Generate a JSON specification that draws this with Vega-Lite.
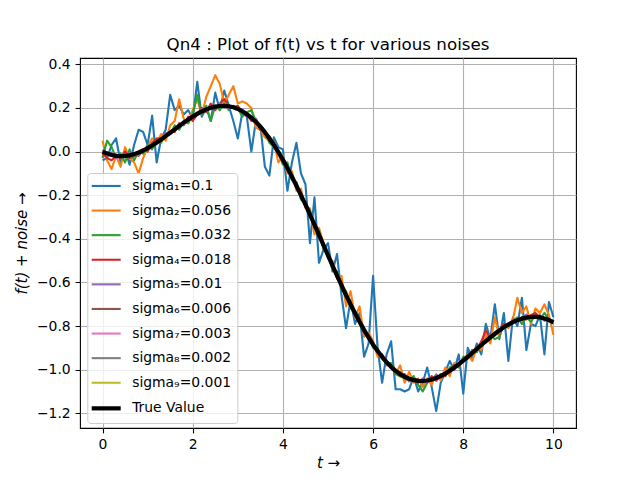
{
  "$schema": "https://vega.github.io/schema/vega-lite/v6.json",
  "width": 496,
  "height": 370,
  "autosize": "none",
  "padding": {"left": 80, "top": 58, "right": 64, "bottom": 52},
  "background": "white",
  "title": {
    "text": "Qn4 : Plot of f(t) vs t for various noises",
    "font": "DejaVu Sans",
    "fontSize": 16.7,
    "fontWeight": "normal",
    "color": "#000000",
    "baseline": "alphabetic",
    "offset": 8.3,
    "dy": 18
  },
  "data": {
    "values": [
      {"s":"1","t":0,"y":-0.04},{"s":"1","t":0.1,"y":-0.03},{"s":"1","t":0.2,"y":0.03},{"s":"1","t":0.3,"y":0.06},{"s":"1","t":0.4,"y":-0.05},{"s":"1","t":0.5,"y":0.01},{"s":"1","t":0.6,"y":-0.06},{"s":"1","t":0.7,"y":0.03},{"s":"1","t":0.8,"y":0.10},{"s":"1","t":0.9,"y":0.09},
      {"s":"1","t":1,"y":0.03},{"s":"1","t":1.1,"y":0.165},{"s":"1","t":1.2,"y":-0.05},{"s":"1","t":1.3,"y":0.06},{"s":"1","t":1.4,"y":0.10},{"s":"1","t":1.5,"y":0.26},{"s":"1","t":1.6,"y":0.19},{"s":"1","t":1.7,"y":0.21},{"s":"1","t":1.8,"y":0.17},{"s":"1","t":1.9,"y":0.19},
      {"s":"1","t":2,"y":0.15},{"s":"1","t":2.1,"y":0.32},{"s":"1","t":2.2,"y":0.16},{"s":"1","t":2.3,"y":0.20},{"s":"1","t":2.4,"y":0.14},{"s":"1","t":2.5,"y":0.27},{"s":"1","t":2.6,"y":0.19},{"s":"1","t":2.7,"y":0.28},{"s":"1","t":2.8,"y":0.21},{"s":"1","t":2.9,"y":0.14},
      {"s":"1","t":3,"y":0.06},{"s":"1","t":3.1,"y":0.18},{"s":"1","t":3.2,"y":0.16},{"s":"1","t":3.3,"y":0.00},{"s":"1","t":3.4,"y":0.14},{"s":"1","t":3.5,"y":0.12},{"s":"1","t":3.6,"y":-0.07},{"s":"1","t":3.7,"y":-0.11},{"s":"1","t":3.8,"y":0.065},{"s":"1","t":3.9,"y":0.02},
      {"s":"1","t":4,"y":0.01},{"s":"1","t":4.1,"y":-0.18},{"s":"1","t":4.2,"y":-0.05},{"s":"1","t":4.3,"y":0.04},{"s":"1","t":4.4,"y":-0.10},{"s":"1","t":4.5,"y":-0.15},{"s":"1","t":4.6,"y":-0.42},{"s":"1","t":4.7,"y":-0.21},{"s":"1","t":4.8,"y":-0.51},{"s":"1","t":4.9,"y":-0.45},
      {"s":"1","t":5,"y":-0.42},{"s":"1","t":5.1,"y":-0.55},{"s":"1","t":5.2,"y":-0.47},{"s":"1","t":5.3,"y":-0.66},{"s":"1","t":5.4,"y":-0.81},{"s":"1","t":5.5,"y":-0.68},{"s":"1","t":5.6,"y":-0.79},{"s":"1","t":5.7,"y":-0.74},{"s":"1","t":5.8,"y":-0.94},{"s":"1","t":5.9,"y":-0.88},
      {"s":"1","t":6,"y":-0.57},{"s":"1","t":6.1,"y":-0.90},{"s":"1","t":6.2,"y":-1.06},{"s":"1","t":6.3,"y":-0.93},{"s":"1","t":6.4,"y":-0.87},{"s":"1","t":6.5,"y":-1.09},{"s":"1","t":6.6,"y":-1.09},{"s":"1","t":6.7,"y":-1.10},{"s":"1","t":6.8,"y":-1.09},{"s":"1","t":6.9,"y":-1.03},
      {"s":"1","t":7,"y":-1.10},{"s":"1","t":7.1,"y":-1.06},{"s":"1","t":7.2,"y":-0.99},{"s":"1","t":7.3,"y":-1.08},{"s":"1","t":7.4,"y":-1.19},{"s":"1","t":7.5,"y":-1.06},{"s":"1","t":7.6,"y":-1.01},{"s":"1","t":7.7,"y":-0.96},{"s":"1","t":7.8,"y":-1.00},{"s":"1","t":7.9,"y":-0.93},
      {"s":"1","t":8,"y":-1.11},{"s":"1","t":8.1,"y":-0.90},{"s":"1","t":8.2,"y":-0.95},{"s":"1","t":8.3,"y":-0.88},{"s":"1","t":8.4,"y":-0.93},{"s":"1","t":8.5,"y":-0.79},{"s":"1","t":8.6,"y":-0.86},{"s":"1","t":8.7,"y":-0.70},{"s":"1","t":8.8,"y":-0.86},{"s":"1","t":8.9,"y":-0.74},
      {"s":"1","t":9,"y":-0.96},{"s":"1","t":9.1,"y":-0.76},{"s":"1","t":9.2,"y":-0.80},{"s":"1","t":9.3,"y":-0.67},{"s":"1","t":9.4,"y":-0.91},{"s":"1","t":9.5,"y":-0.79},{"s":"1","t":9.6,"y":-0.80},{"s":"1","t":9.7,"y":-0.75},{"s":"1","t":9.8,"y":-0.93},{"s":"1","t":9.9,"y":-0.69},
      {"s":"1","t":10,"y":-0.76},

      {"s":"2","t":0,"y":0.05},{"s":"2","t":0.1,"y":-0.04},{"s":"2","t":0.2,"y":-0.08},{"s":"2","t":0.3,"y":-0.02},{"s":"2","t":0.4,"y":-0.07},{"s":"2","t":0.5,"y":0.02},{"s":"2","t":0.6,"y":-0.03},{"s":"2","t":0.7,"y":-0.05},{"s":"2","t":0.8,"y":-0.10},{"s":"2","t":0.9,"y":-0.03},
      {"s":"2","t":1,"y":0.02},{"s":"2","t":1.1,"y":0.06},{"s":"2","t":1.2,"y":0.04},{"s":"2","t":1.3,"y":0.08},{"s":"2","t":1.4,"y":0.05},{"s":"2","t":1.5,"y":0.12},{"s":"2","t":1.6,"y":0.14},{"s":"2","t":1.7,"y":0.24},{"s":"2","t":1.8,"y":0.15},{"s":"2","t":1.9,"y":0.13},
      {"s":"2","t":2,"y":0.19},{"s":"2","t":2.1,"y":0.24},{"s":"2","t":2.2,"y":0.17},{"s":"2","t":2.3,"y":0.25},{"s":"2","t":2.4,"y":0.30},{"s":"2","t":2.5,"y":0.35},{"s":"2","t":2.6,"y":0.31},{"s":"2","t":2.7,"y":0.22},{"s":"2","t":2.8,"y":0.26},{"s":"2","t":2.9,"y":0.30},
      {"s":"2","t":3,"y":0.22},{"s":"2","t":3.1,"y":0.23},{"s":"2","t":3.2,"y":0.22},{"s":"2","t":3.3,"y":0.20},{"s":"2","t":3.4,"y":0.11},{"s":"2","t":3.5,"y":0.10},{"s":"2","t":3.6,"y":0.065},{"s":"2","t":3.7,"y":0.05},{"s":"2","t":3.8,"y":0.04},{"s":"2","t":3.9,"y":-0.05},
      {"s":"2","t":4,"y":-0.02},{"s":"2","t":4.1,"y":-0.10},{"s":"2","t":4.2,"y":-0.09},{"s":"2","t":4.3,"y":-0.18},{"s":"2","t":4.4,"y":-0.17},{"s":"2","t":4.5,"y":-0.26},{"s":"2","t":4.6,"y":-0.26},{"s":"2","t":4.7,"y":-0.38},{"s":"2","t":4.8,"y":-0.35},{"s":"2","t":4.9,"y":-0.42},
      {"s":"2","t":5,"y":-0.49},{"s":"2","t":5.1,"y":-0.50},{"s":"2","t":5.2,"y":-0.58},{"s":"2","t":5.3,"y":-0.57},{"s":"2","t":5.4,"y":-0.71},{"s":"2","t":5.5,"y":-0.64},{"s":"2","t":5.6,"y":-0.76},{"s":"2","t":5.7,"y":-0.71},{"s":"2","t":5.8,"y":-0.85},{"s":"2","t":5.9,"y":-0.83},
      {"s":"2","t":6,"y":-0.87},{"s":"2","t":6.1,"y":-0.94},{"s":"2","t":6.2,"y":-0.93},{"s":"2","t":6.3,"y":-0.96},{"s":"2","t":6.4,"y":-0.98},{"s":"2","t":6.5,"y":-1.02},{"s":"2","t":6.6,"y":-0.98},{"s":"2","t":6.7,"y":-1.06},{"s":"2","t":6.8,"y":-1.01},{"s":"2","t":6.9,"y":-1.06},
      {"s":"2","t":7,"y":-1.04},{"s":"2","t":7.1,"y":-1.08},{"s":"2","t":7.2,"y":-1.04},{"s":"2","t":7.3,"y":-1.07},{"s":"2","t":7.4,"y":-1.02},{"s":"2","t":7.5,"y":-1.05},{"s":"2","t":7.6,"y":-0.99},{"s":"2","t":7.7,"y":-1.03},{"s":"2","t":7.8,"y":-0.97},{"s":"2","t":7.9,"y":-0.99},
      {"s":"2","t":8,"y":-0.95},{"s":"2","t":8.1,"y":-0.93},{"s":"2","t":8.2,"y":-0.96},{"s":"2","t":8.3,"y":-0.90},{"s":"2","t":8.4,"y":-0.91},{"s":"2","t":8.5,"y":-0.84},{"s":"2","t":8.6,"y":-0.88},{"s":"2","t":8.7,"y":-0.76},{"s":"2","t":8.8,"y":-0.85},{"s":"2","t":8.9,"y":-0.79},
      {"s":"2","t":9,"y":-0.81},{"s":"2","t":9.1,"y":-0.77},{"s":"2","t":9.2,"y":-0.67},{"s":"2","t":9.3,"y":-0.74},{"s":"2","t":9.4,"y":-0.71},{"s":"2","t":9.5,"y":-0.79},{"s":"2","t":9.6,"y":-0.72},{"s":"2","t":9.7,"y":-0.74},{"s":"2","t":9.8,"y":-0.70},{"s":"2","t":9.9,"y":-0.75},
      {"s":"2","t":10,"y":-0.84},

      {"s":"3","t":0,"y":-0.03},{"s":"3","t":0.1,"y":0.05},{"s":"3","t":0.2,"y":0.02},{"s":"3","t":0.3,"y":-0.03},{"s":"3","t":0.4,"y":-0.01},{"s":"3","t":0.5,"y":-0.05},{"s":"3","t":0.6,"y":0.01},{"s":"3","t":0.7,"y":-0.04},{"s":"3","t":0.8,"y":0.00},{"s":"3","t":0.9,"y":-0.01},
      {"s":"3","t":1,"y":0.03},{"s":"3","t":1.1,"y":0.01},{"s":"3","t":1.2,"y":0.06},{"s":"3","t":1.3,"y":0.04},{"s":"3","t":1.4,"y":0.08},{"s":"3","t":1.5,"y":0.08},{"s":"3","t":1.6,"y":0.12},{"s":"3","t":1.7,"y":0.10},{"s":"3","t":1.8,"y":0.14},{"s":"3","t":1.9,"y":0.13},
      {"s":"3","t":2,"y":0.17},{"s":"3","t":2.1,"y":0.26},{"s":"3","t":2.2,"y":0.17},{"s":"3","t":2.3,"y":0.21},{"s":"3","t":2.4,"y":0.14},{"s":"3","t":2.5,"y":0.21},{"s":"3","t":2.6,"y":0.19},{"s":"3","t":2.7,"y":0.22},{"s":"3","t":2.8,"y":0.19},{"s":"3","t":2.9,"y":0.21},
      {"s":"3","t":3,"y":0.20},{"s":"3","t":3.1,"y":0.16},{"s":"3","t":3.2,"y":0.18},{"s":"3","t":3.3,"y":0.19},{"s":"3","t":3.4,"y":0.14},{"s":"3","t":3.5,"y":0.12},{"s":"3","t":3.6,"y":0.09},{"s":"3","t":3.7,"y":0.04},{"s":"3","t":3.8,"y":0.02},{"s":"3","t":3.9,"y":0.00},
      {"s":"3","t":4,"y":-0.06},{"s":"3","t":4.1,"y":-0.05},{"s":"3","t":4.2,"y":-0.13},{"s":"3","t":4.3,"y":-0.14},{"s":"3","t":4.4,"y":-0.22},{"s":"3","t":4.5,"y":-0.24},{"s":"3","t":4.6,"y":-0.27},{"s":"3","t":4.7,"y":-0.35},{"s":"3","t":4.8,"y":-0.36},{"s":"3","t":4.9,"y":-0.45},
      {"s":"3","t":5,"y":-0.47},{"s":"3","t":5.1,"y":-0.54},{"s":"3","t":5.2,"y":-0.55},{"s":"3","t":5.3,"y":-0.63},{"s":"3","t":5.4,"y":-0.64},{"s":"3","t":5.5,"y":-0.72},{"s":"3","t":5.6,"y":-0.73},{"s":"3","t":5.7,"y":-0.79},{"s":"3","t":5.8,"y":-0.83},{"s":"3","t":5.9,"y":-0.84},
      {"s":"3","t":6,"y":-0.90},{"s":"3","t":6.1,"y":-0.90},{"s":"3","t":6.2,"y":-0.95},{"s":"3","t":6.3,"y":-0.97},{"s":"3","t":6.4,"y":-0.97},{"s":"3","t":6.5,"y":-1.02},{"s":"3","t":6.6,"y":-1.03},{"s":"3","t":6.7,"y":-1.04},{"s":"3","t":6.8,"y":-1.05},{"s":"3","t":6.9,"y":-1.03},
      {"s":"3","t":7,"y":-1.07},{"s":"3","t":7.1,"y":-1.10},{"s":"3","t":7.2,"y":-1.06},{"s":"3","t":7.3,"y":-1.04},{"s":"3","t":7.4,"y":-1.05},{"s":"3","t":7.5,"y":-1.02},{"s":"3","t":7.6,"y":-1.03},{"s":"3","t":7.7,"y":-0.99},{"s":"3","t":7.8,"y":-0.98},{"s":"3","t":7.9,"y":-0.99},
      {"s":"3","t":8,"y":-0.94},{"s":"3","t":8.1,"y":-0.95},{"s":"3","t":8.2,"y":-0.91},{"s":"3","t":8.3,"y":-0.92},{"s":"3","t":8.4,"y":-0.88},{"s":"3","t":8.5,"y":-0.87},{"s":"3","t":8.6,"y":-0.84},{"s":"3","t":8.7,"y":-0.86},{"s":"3","t":8.8,"y":-0.85},{"s":"3","t":8.9,"y":-0.79},
      {"s":"3","t":9,"y":-0.80},{"s":"3","t":9.1,"y":-0.78},{"s":"3","t":9.2,"y":-0.76},{"s":"3","t":9.3,"y":-0.79},{"s":"3","t":9.4,"y":-0.76},{"s":"3","t":9.5,"y":-0.78},{"s":"3","t":9.6,"y":-0.75},{"s":"3","t":9.7,"y":-0.77},{"s":"3","t":9.8,"y":-0.74},{"s":"3","t":9.9,"y":-0.77},
      {"s":"3","t":10,"y":-0.79},

      {"s":"4","t":0,"y":-0.01},{"s":"4","t":0.1,"y":-0.03},{"s":"4","t":0.2,"y":-0.04},{"s":"4","t":0.3,"y":-0.02},{"s":"4","t":0.4,"y":-0.03},{"s":"4","t":0.5,"y":0.00},{"s":"4","t":0.6,"y":-0.03},{"s":"4","t":0.7,"y":-0.01},{"s":"4","t":0.8,"y":-0.02},{"s":"4","t":0.9,"y":0.01},
      {"s":"4","t":1,"y":0.00},{"s":"4","t":1.1,"y":0.04},{"s":"4","t":1.2,"y":0.06},{"s":"4","t":1.3,"y":0.06},{"s":"4","t":1.4,"y":0.07},{"s":"4","t":1.5,"y":0.09},{"s":"4","t":1.6,"y":0.09},{"s":"4","t":1.7,"y":0.13},{"s":"4","t":1.8,"y":0.12},{"s":"4","t":1.9,"y":0.16},
      {"s":"4","t":2,"y":0.14},{"s":"4","t":2.1,"y":0.17},{"s":"4","t":2.2,"y":0.20},{"s":"4","t":2.3,"y":0.18},{"s":"4","t":2.4,"y":0.22},{"s":"4","t":2.5,"y":0.19},{"s":"4","t":2.6,"y":0.22},{"s":"4","t":2.7,"y":0.24},{"s":"4","t":2.8,"y":0.21},{"s":"4","t":2.9,"y":0.20},
      {"s":"4","t":3,"y":0.21},{"s":"4","t":3.1,"y":0.18},{"s":"4","t":3.2,"y":0.17},{"s":"4","t":3.3,"y":0.14},{"s":"4","t":3.4,"y":0.15},{"s":"4","t":3.5,"y":0.10},{"s":"4","t":3.6,"y":0.09},{"s":"4","t":3.7,"y":0.05},{"s":"4","t":3.8,"y":0.04},{"s":"4","t":3.9,"y":-0.01},
      {"s":"4","t":4,"y":-0.05},{"s":"4","t":4.1,"y":-0.07},{"s":"4","t":4.2,"y":-0.12},{"s":"4","t":4.3,"y":-0.15},{"s":"4","t":4.4,"y":-0.21},{"s":"4","t":4.5,"y":-0.23},{"s":"4","t":4.6,"y":-0.30},{"s":"4","t":4.7,"y":-0.33},{"s":"4","t":4.8,"y":-0.39},{"s":"4","t":4.9,"y":-0.42},
      {"s":"4","t":5,"y":-0.48},{"s":"4","t":5.1,"y":-0.51},{"s":"4","t":5.2,"y":-0.58},{"s":"4","t":5.3,"y":-0.61},{"s":"4","t":5.4,"y":-0.67},{"s":"4","t":5.5,"y":-0.69},{"s":"4","t":5.6,"y":-0.75},{"s":"4","t":5.7,"y":-0.77},{"s":"4","t":5.8,"y":-0.83},{"s":"4","t":5.9,"y":-0.85},
      {"s":"4","t":6,"y":-0.89},{"s":"4","t":6.1,"y":-0.92},{"s":"4","t":6.2,"y":-0.94},{"s":"4","t":6.3,"y":-0.98},{"s":"4","t":6.4,"y":-0.98},{"s":"4","t":6.5,"y":-1.01},{"s":"4","t":6.6,"y":-1.03},{"s":"4","t":6.7,"y":-1.02},{"s":"4","t":6.8,"y":-1.05},{"s":"4","t":6.9,"y":-1.04},
      {"s":"4","t":7,"y":-1.06},{"s":"4","t":7.1,"y":-1.04},{"s":"4","t":7.2,"y":-1.06},{"s":"4","t":7.3,"y":-1.03},{"s":"4","t":7.4,"y":-1.05},{"s":"4","t":7.5,"y":-1.02},{"s":"4","t":7.6,"y":-1.03},{"s":"4","t":7.7,"y":-1.00},{"s":"4","t":7.8,"y":-0.98},{"s":"4","t":7.9,"y":-0.98},
      {"s":"4","t":8,"y":-0.95},{"s":"4","t":8.1,"y":-0.94},{"s":"4","t":8.2,"y":-0.91},{"s":"4","t":8.3,"y":-0.91},{"s":"4","t":8.4,"y":-0.87},{"s":"4","t":8.5,"y":-0.82},{"s":"4","t":8.6,"y":-0.86},{"s":"4","t":8.7,"y":-0.83},{"s":"4","t":8.8,"y":-0.82},{"s":"4","t":8.9,"y":-0.79},
      {"s":"4","t":9,"y":-0.80},{"s":"4","t":9.1,"y":-0.77},{"s":"4","t":9.2,"y":-0.78},{"s":"4","t":9.3,"y":-0.76},{"s":"4","t":9.4,"y":-0.77},{"s":"4","t":9.5,"y":-0.75},{"s":"4","t":9.6,"y":-0.74},{"s":"4","t":9.7,"y":-0.76},{"s":"4","t":9.8,"y":-0.77},{"s":"4","t":9.9,"y":-0.77},
      {"s":"4","t":10,"y":-0.78},

      {"s":"5","t":0,"y":0.008},{"s":"5","t":0.1,"y":-0.014},{"s":"5","t":0.2,"y":-0.004},{"s":"5","t":0.3,"y":-0.030},{"s":"5","t":0.4,"y":-0.018},{"s":"5","t":0.5,"y":-0.027},{"s":"5","t":0.6,"y":-0.007},{"s":"5","t":0.7,"y":-0.011},{"s":"5","t":0.8,"y":-0.016},{"s":"5","t":0.9,"y":0.011},
      {"s":"5","t":1,"y":0.013},{"s":"5","t":1.1,"y":0.037},{"s":"5","t":1.2,"y":0.033},{"s":"5","t":1.3,"y":0.058},{"s":"5","t":1.4,"y":0.085},{"s":"5","t":1.5,"y":0.080},{"s":"5","t":1.6,"y":0.101},{"s":"5","t":1.7,"y":0.124},{"s":"5","t":1.8,"y":0.122},{"s":"5","t":1.9,"y":0.151},
      {"s":"5","t":2,"y":0.168},{"s":"5","t":2.1,"y":0.168},{"s":"5","t":2.2,"y":0.196},{"s":"5","t":2.3,"y":0.183},{"s":"5","t":2.4,"y":0.204},{"s":"5","t":2.5,"y":0.199},{"s":"5","t":2.6,"y":0.219},{"s":"5","t":2.7,"y":0.211},{"s":"5","t":2.8,"y":0.196},{"s":"5","t":2.9,"y":0.209},
      {"s":"5","t":3,"y":0.192},{"s":"5","t":3.1,"y":0.194},{"s":"5","t":3.2,"y":0.163},{"s":"5","t":3.3,"y":0.157},{"s":"5","t":3.4,"y":0.150},{"s":"5","t":3.5,"y":0.108},{"s":"5","t":3.6,"y":0.088},{"s":"5","t":3.7,"y":0.068},{"s":"5","t":3.8,"y":0.019},{"s":"5","t":3.9,"y":0.001},
      {"s":"5","t":4,"y":-0.030},{"s":"5","t":4.1,"y":-0.081},{"s":"5","t":4.2,"y":-0.103},{"s":"5","t":4.3,"y":-0.167},{"s":"5","t":4.4,"y":-0.197},{"s":"5","t":4.5,"y":-0.251},{"s":"5","t":4.6,"y":-0.279},{"s":"5","t":4.7,"y":-0.335},{"s":"5","t":4.8,"y":-0.394},{"s":"5","t":4.9,"y":-0.423},
      {"s":"5","t":5,"y":-0.479},{"s":"5","t":5.1,"y":-0.514},{"s":"5","t":5.2,"y":-0.577},{"s":"5","t":5.3,"y":-0.612},{"s":"5","t":5.4,"y":-0.644},{"s":"5","t":5.5,"y":-0.707},{"s":"5","t":5.6,"y":-0.743},{"s":"5","t":5.7,"y":-0.774},{"s":"5","t":5.8,"y":-0.829},{"s":"5","t":5.9,"y":-0.849},
      {"s":"5","t":6,"y":-0.877},{"s":"5","t":6.1,"y":-0.920},{"s":"5","t":6.2,"y":-0.929},{"s":"5","t":6.3,"y":-0.976},{"s":"5","t":6.4,"y":-0.984},{"s":"5","t":6.5,"y":-1.012},{"s":"5","t":6.6,"y":-1.010},{"s":"5","t":6.7,"y":-1.031},{"s":"5","t":6.8,"y":-1.054},{"s":"5","t":6.9,"y":-1.042},
      {"s":"5","t":7,"y":-1.055},{"s":"5","t":7.1,"y":-1.043},{"s":"5","t":7.2,"y":-1.058},{"s":"5","t":7.3,"y":-1.043},{"s":"5","t":7.4,"y":-1.024},{"s":"5","t":7.5,"y":-1.035},{"s":"5","t":7.6,"y":-1.019},{"s":"5","t":7.7,"y":-0.998},{"s":"5","t":7.8,"y":-1.002},{"s":"5","t":7.9,"y":-0.971},
      {"s":"5","t":8,"y":-0.951},{"s":"5","t":8.1,"y":-0.946},{"s":"5","t":8.2,"y":-0.911},{"s":"5","t":8.3,"y":-0.915},{"s":"5","t":8.4,"y":-0.884},{"s":"5","t":8.5,"y":-0.876},{"s":"5","t":8.6,"y":-0.842},{"s":"5","t":8.7,"y":-0.835},{"s":"5","t":8.8,"y":-0.832},{"s":"5","t":8.9,"y":-0.800},
      {"s":"5","t":9,"y":-0.796},{"s":"5","t":9.1,"y":-0.773},{"s":"5","t":9.2,"y":-0.781},{"s":"5","t":9.3,"y":-0.764},{"s":"5","t":9.4,"y":-0.747},{"s":"5","t":9.5,"y":-0.764},{"s":"5","t":9.6,"y":-0.759},{"s":"5","t":9.7,"y":-0.753},{"s":"5","t":9.8,"y":-0.776},{"s":"5","t":9.9,"y":-0.769},
      {"s":"5","t":10,"y":-0.775},

      {"s":"6","t":0,"y":-0.004},{"s":"6","t":0.1,"y":-0.003},{"s":"6","t":0.2,"y":-0.018},{"s":"6","t":0.3,"y":-0.013},{"s":"6","t":0.4,"y":-0.027},{"s":"6","t":0.5,"y":-0.019},{"s":"6","t":0.6,"y":-0.012},{"s":"6","t":0.7,"y":-0.020},{"s":"6","t":0.8,"y":-0.001},{"s":"6","t":0.9,"y":0.004},
      {"s":"6","t":1,"y":0.022},{"s":"6","t":1.1,"y":0.023},{"s":"6","t":1.2,"y":0.043},{"s":"6","t":1.3,"y":0.049},{"s":"6","t":1.4,"y":0.075},{"s":"6","t":1.5,"y":0.086},{"s":"6","t":1.6,"y":0.099},{"s":"6","t":1.7,"y":0.125},{"s":"6","t":1.8,"y":0.129},{"s":"6","t":1.9,"y":0.149},
      {"s":"6","t":2,"y":0.156},{"s":"6","t":2.1,"y":0.179},{"s":"6","t":2.2,"y":0.182},{"s":"6","t":2.3,"y":0.200},{"s":"6","t":2.4,"y":0.195},{"s":"6","t":2.5,"y":0.207},{"s":"6","t":2.6,"y":0.214},{"s":"6","t":2.7,"y":0.202},{"s":"6","t":2.8,"y":0.211},{"s":"6","t":2.9,"y":0.202},
      {"s":"6","t":3,"y":0.201},{"s":"6","t":3.1,"y":0.180},{"s":"6","t":3.2,"y":0.173},{"s":"6","t":3.3,"y":0.148},{"s":"6","t":3.4,"y":0.140},{"s":"6","t":3.5,"y":0.114},{"s":"6","t":3.6,"y":0.086},{"s":"6","t":3.7,"y":0.069},{"s":"6","t":3.8,"y":0.026},{"s":"6","t":3.9,"y":-0.001},
      {"s":"6","t":4,"y":-0.042},{"s":"6","t":4.1,"y":-0.070},{"s":"6","t":4.2,"y":-0.117},{"s":"6","t":4.3,"y":-0.150},{"s":"6","t":4.4,"y":-0.206},{"s":"6","t":4.5,"y":-0.243},{"s":"6","t":4.6,"y":-0.284},{"s":"6","t":4.7,"y":-0.344},{"s":"6","t":4.8,"y":-0.379},{"s":"6","t":4.9,"y":-0.430},
      {"s":"6","t":5,"y":-0.470},{"s":"6","t":5.1,"y":-0.528},{"s":"6","t":5.2,"y":-0.567},{"s":"6","t":5.3,"y":-0.621},{"s":"6","t":5.4,"y":-0.654},{"s":"6","t":5.5,"y":-0.701},{"s":"6","t":5.6,"y":-0.745},{"s":"6","t":5.7,"y":-0.773},{"s":"6","t":5.8,"y":-0.822},{"s":"6","t":5.9,"y":-0.851},
      {"s":"6","t":6,"y":-0.889},{"s":"6","t":6.1,"y":-0.909},{"s":"6","t":6.2,"y":-0.943},{"s":"6","t":6.3,"y":-0.959},{"s":"6","t":6.4,"y":-0.993},{"s":"6","t":6.5,"y":-1.004},{"s":"6","t":6.6,"y":-1.015},{"s":"6","t":6.7,"y":-1.040},{"s":"6","t":6.8,"y":-1.039},{"s":"6","t":6.9,"y":-1.049},
      {"s":"6","t":7,"y":-1.046},{"s":"6","t":7.1,"y":-1.057},{"s":"6","t":7.2,"y":-1.048},{"s":"6","t":7.3,"y":-1.052},{"s":"6","t":7.4,"y":-1.034},{"s":"6","t":7.5,"y":-1.029},{"s":"6","t":7.6,"y":-1.021},{"s":"6","t":7.7,"y":-0.997},{"s":"6","t":7.8,"y":-0.995},{"s":"6","t":7.9,"y":-0.973},
      {"s":"6","t":8,"y":-0.963},{"s":"6","t":8.1,"y":-0.935},{"s":"6","t":8.2,"y":-0.925},{"s":"6","t":8.3,"y":-0.898},{"s":"6","t":8.4,"y":-0.893},{"s":"6","t":8.5,"y":-0.868},{"s":"6","t":8.6,"y":-0.847},{"s":"6","t":8.7,"y":-0.844},{"s":"6","t":8.8,"y":-0.817},{"s":"6","t":8.9,"y":-0.807},
      {"s":"6","t":9,"y":-0.787},{"s":"6","t":9.1,"y":-0.787},{"s":"6","t":9.2,"y":-0.771},{"s":"6","t":9.3,"y":-0.773},{"s":"6","t":9.4,"y":-0.757},{"s":"6","t":9.5,"y":-0.758},{"s":"6","t":9.6,"y":-0.761},{"s":"6","t":9.7,"y":-0.752},{"s":"6","t":9.8,"y":-0.769},{"s":"6","t":9.9,"y":-0.771},
      {"s":"6","t":10,"y":-0.787},

      {"s":"7","t":0,"y":0.002},{"s":"7","t":0.1,"y":-0.010},{"s":"7","t":0.2,"y":-0.014},{"s":"7","t":0.3,"y":-0.021},{"s":"7","t":0.4,"y":-0.019},{"s":"7","t":0.5,"y":-0.021},{"s":"7","t":0.6,"y":-0.015},{"s":"7","t":0.7,"y":-0.013},{"s":"7","t":0.8,"y":-0.002},{"s":"7","t":0.9,"y":0.004},
      {"s":"7","t":1,"y":0.018},{"s":"7","t":1.1,"y":0.027},{"s":"7","t":1.2,"y":0.043},{"s":"7","t":1.3,"y":0.055},{"s":"7","t":1.4,"y":0.073},{"s":"7","t":1.5,"y":0.085},{"s":"7","t":1.6,"y":0.104},{"s":"7","t":1.7,"y":0.116},{"s":"7","t":1.8,"y":0.135},{"s":"7","t":1.9,"y":0.146},
      {"s":"7","t":2,"y":0.162},{"s":"7","t":2.1,"y":0.172},{"s":"7","t":2.2,"y":0.186},{"s":"7","t":2.3,"y":0.192},{"s":"7","t":2.4,"y":0.203},{"s":"7","t":2.5,"y":0.205},{"s":"7","t":2.6,"y":0.211},{"s":"7","t":2.7,"y":0.209},{"s":"7","t":2.8,"y":0.210},{"s":"7","t":2.9,"y":0.202},
      {"s":"7","t":3,"y":0.197},{"s":"7","t":3.1,"y":0.184},{"s":"7","t":3.2,"y":0.173},{"s":"7","t":3.3,"y":0.154},{"s":"7","t":3.4,"y":0.138},{"s":"7","t":3.5,"y":0.113},{"s":"7","t":3.6,"y":0.091},{"s":"7","t":3.7,"y":0.060},{"s":"7","t":3.8,"y":0.032},{"s":"7","t":3.9,"y":-0.004},
      {"s":"7","t":4,"y":-0.036},{"s":"7","t":4.1,"y":-0.077},{"s":"7","t":4.2,"y":-0.113},{"s":"7","t":4.3,"y":-0.158},{"s":"7","t":4.4,"y":-0.198},{"s":"7","t":4.5,"y":-0.245},{"s":"7","t":4.6,"y":-0.287},{"s":"7","t":4.7,"y":-0.337},{"s":"7","t":4.8,"y":-0.380},{"s":"7","t":4.9,"y":-0.430},
      {"s":"7","t":5,"y":-0.474},{"s":"7","t":5.1,"y":-0.524},{"s":"7","t":5.2,"y":-0.567},{"s":"7","t":5.3,"y":-0.615},{"s":"7","t":5.4,"y":-0.656},{"s":"7","t":5.5,"y":-0.702},{"s":"7","t":5.6,"y":-0.740},{"s":"7","t":5.7,"y":-0.782},{"s":"7","t":5.8,"y":-0.816},{"s":"7","t":5.9,"y":-0.854},
      {"s":"7","t":6,"y":-0.883},{"s":"7","t":6.1,"y":-0.916},{"s":"7","t":6.2,"y":-0.939},{"s":"7","t":6.3,"y":-0.967},{"s":"7","t":6.4,"y":-0.985},{"s":"7","t":6.5,"y":-1.006},{"s":"7","t":6.6,"y":-1.018},{"s":"7","t":6.7,"y":-1.033},{"s":"7","t":6.8,"y":-1.040},{"s":"7","t":6.9,"y":-1.049},
      {"s":"7","t":7,"y":-1.050},{"s":"7","t":7.1,"y":-1.053},{"s":"7","t":7.2,"y":-1.048},{"s":"7","t":7.3,"y":-1.046},{"s":"7","t":7.4,"y":-1.036},{"s":"7","t":7.5,"y":-1.030},{"s":"7","t":7.6,"y":-1.016},{"s":"7","t":7.7,"y":-1.006},{"s":"7","t":7.8,"y":-0.989},{"s":"7","t":7.9,"y":-0.976},
      {"s":"7","t":8,"y":-0.957},{"s":"7","t":8.1,"y":-0.942},{"s":"7","t":8.2,"y":-0.921},{"s":"7","t":8.3,"y":-0.906},{"s":"7","t":8.4,"y":-0.885},{"s":"7","t":8.5,"y":-0.870},{"s":"7","t":8.6,"y":-0.850},{"s":"7","t":8.7,"y":-0.837},{"s":"7","t":8.8,"y":-0.818},{"s":"7","t":8.9,"y":-0.807},
      {"s":"7","t":9,"y":-0.791},{"s":"7","t":9.1,"y":-0.783},{"s":"7","t":9.2,"y":-0.771},{"s":"7","t":9.3,"y":-0.767},{"s":"7","t":9.4,"y":-0.759},{"s":"7","t":9.5,"y":-0.759},{"s":"7","t":9.6,"y":-0.756},{"s":"7","t":9.7,"y":-0.761},{"s":"7","t":9.8,"y":-0.763},{"s":"7","t":9.9,"y":-0.774},
      {"s":"7","t":10,"y":-0.781},

      {"s":"8","t":0,"y":-0.001},{"s":"8","t":0.1,"y":-0.008},{"s":"8","t":0.2,"y":-0.017},{"s":"8","t":0.3,"y":-0.019},{"s":"8","t":0.4,"y":-0.022},{"s":"8","t":0.5,"y":-0.019},{"s":"8","t":0.6,"y":-0.018},{"s":"8","t":0.7,"y":-0.011},{"s":"8","t":0.8,"y":-0.005},{"s":"8","t":0.9,"y":0.006},
      {"s":"8","t":1,"y":0.015},{"s":"8","t":1.1,"y":0.029},{"s":"8","t":1.2,"y":0.040},{"s":"8","t":1.3,"y":0.057},{"s":"8","t":1.4,"y":0.070},{"s":"8","t":1.5,"y":0.087},{"s":"8","t":1.6,"y":0.101},{"s":"8","t":1.7,"y":0.118},{"s":"8","t":1.8,"y":0.132},{"s":"8","t":1.9,"y":0.148},
      {"s":"8","t":2,"y":0.159},{"s":"8","t":2.1,"y":0.174},{"s":"8","t":2.2,"y":0.183},{"s":"8","t":2.3,"y":0.194},{"s":"8","t":2.4,"y":0.200},{"s":"8","t":2.5,"y":0.207},{"s":"8","t":2.6,"y":0.208},{"s":"8","t":2.7,"y":0.211},{"s":"8","t":2.8,"y":0.207},{"s":"8","t":2.9,"y":0.204},
      {"s":"8","t":3,"y":0.194},{"s":"8","t":3.1,"y":0.186},{"s":"8","t":3.2,"y":0.170},{"s":"8","t":3.3,"y":0.156},{"s":"8","t":3.4,"y":0.135},{"s":"8","t":3.5,"y":0.115},{"s":"8","t":3.6,"y":0.088},{"s":"8","t":3.7,"y":0.062},{"s":"8","t":3.8,"y":0.029},{"s":"8","t":3.9,"y":-0.002},
      {"s":"8","t":4,"y":-0.039},{"s":"8","t":4.1,"y":-0.075},{"s":"8","t":4.2,"y":-0.116},{"s":"8","t":4.3,"y":-0.156},{"s":"8","t":4.4,"y":-0.201},{"s":"8","t":4.5,"y":-0.243},{"s":"8","t":4.6,"y":-0.290},{"s":"8","t":4.7,"y":-0.335},{"s":"8","t":4.8,"y":-0.383},{"s":"8","t":4.9,"y":-0.428},
      {"s":"8","t":5,"y":-0.477},{"s":"8","t":5.1,"y":-0.522},{"s":"8","t":5.2,"y":-0.570},{"s":"8","t":5.3,"y":-0.613},{"s":"8","t":5.4,"y":-0.659},{"s":"8","t":5.5,"y":-0.700},{"s":"8","t":5.6,"y":-0.743},{"s":"8","t":5.7,"y":-0.780},{"s":"8","t":5.8,"y":-0.819},{"s":"8","t":5.9,"y":-0.852},
      {"s":"8","t":6,"y":-0.886},{"s":"8","t":6.1,"y":-0.914},{"s":"8","t":6.2,"y":-0.942},{"s":"8","t":6.3,"y":-0.965},{"s":"8","t":6.4,"y":-0.988},{"s":"8","t":6.5,"y":-1.004},{"s":"8","t":6.6,"y":-1.021},{"s":"8","t":6.7,"y":-1.031},{"s":"8","t":6.8,"y":-1.043},{"s":"8","t":6.9,"y":-1.047},
      {"s":"8","t":7,"y":-1.053},{"s":"8","t":7.1,"y":-1.051},{"s":"8","t":7.2,"y":-1.051},{"s":"8","t":7.3,"y":-1.044},{"s":"8","t":7.4,"y":-1.039},{"s":"8","t":7.5,"y":-1.028},{"s":"8","t":7.6,"y":-1.019},{"s":"8","t":7.7,"y":-1.004},{"s":"8","t":7.8,"y":-0.992},{"s":"8","t":7.9,"y":-0.974},
      {"s":"8","t":8,"y":-0.960},{"s":"8","t":8.1,"y":-0.940},{"s":"8","t":8.2,"y":-0.924},{"s":"8","t":8.3,"y":-0.904},{"s":"8","t":8.4,"y":-0.888},{"s":"8","t":8.5,"y":-0.868},{"s":"8","t":8.6,"y":-0.853},{"s":"8","t":8.7,"y":-0.835},{"s":"8","t":8.8,"y":-0.821},{"s":"8","t":8.9,"y":-0.805},
      {"s":"8","t":9,"y":-0.794},{"s":"8","t":9.1,"y":-0.781},{"s":"8","t":9.2,"y":-0.774},{"s":"8","t":9.3,"y":-0.765},{"s":"8","t":9.4,"y":-0.762},{"s":"8","t":9.5,"y":-0.757},{"s":"8","t":9.6,"y":-0.759},{"s":"8","t":9.7,"y":-0.759},{"s":"8","t":9.8,"y":-0.766},{"s":"8","t":9.9,"y":-0.772},
      {"s":"8","t":10,"y":-0.784},

      {"s":"9","t":0,"y":0.000},{"s":"9","t":0.1,"y":-0.009},{"s":"9","t":0.2,"y":-0.016},{"s":"9","t":0.3,"y":-0.020},{"s":"9","t":0.4,"y":-0.021},{"s":"9","t":0.5,"y":-0.020},{"s":"9","t":0.6,"y":-0.017},{"s":"9","t":0.7,"y":-0.012},{"s":"9","t":0.8,"y":-0.004},{"s":"9","t":0.9,"y":0.005},
      {"s":"9","t":1,"y":0.016},{"s":"9","t":1.1,"y":0.028},{"s":"9","t":1.2,"y":0.041},{"s":"9","t":1.3,"y":0.056},{"s":"9","t":1.4,"y":0.071},{"s":"9","t":1.5,"y":0.086},{"s":"9","t":1.6,"y":0.102},{"s":"9","t":1.7,"y":0.117},{"s":"9","t":1.8,"y":0.133},{"s":"9","t":1.9,"y":0.147},
      {"s":"9","t":2,"y":0.160},{"s":"9","t":2.1,"y":0.173},{"s":"9","t":2.2,"y":0.184},{"s":"9","t":2.3,"y":0.193},{"s":"9","t":2.4,"y":0.201},{"s":"9","t":2.5,"y":0.206},{"s":"9","t":2.6,"y":0.209},{"s":"9","t":2.7,"y":0.210},{"s":"9","t":2.8,"y":0.208},{"s":"9","t":2.9,"y":0.203},
      {"s":"9","t":3,"y":0.195},{"s":"9","t":3.1,"y":0.185},{"s":"9","t":3.2,"y":0.171},{"s":"9","t":3.3,"y":0.155},{"s":"9","t":3.4,"y":0.136},{"s":"9","t":3.5,"y":0.114},{"s":"9","t":3.6,"y":0.089},{"s":"9","t":3.7,"y":0.061},{"s":"9","t":3.8,"y":0.030},{"s":"9","t":3.9,"y":-0.003},
      {"s":"9","t":4,"y":-0.038},{"s":"9","t":4.1,"y":-0.076},{"s":"9","t":4.2,"y":-0.115},{"s":"9","t":4.3,"y":-0.157},{"s":"9","t":4.4,"y":-0.200},{"s":"9","t":4.5,"y":-0.244},{"s":"9","t":4.6,"y":-0.289},{"s":"9","t":4.7,"y":-0.336},{"s":"9","t":4.8,"y":-0.382},{"s":"9","t":4.9,"y":-0.429},
      {"s":"9","t":5,"y":-0.476},{"s":"9","t":5.1,"y":-0.523},{"s":"9","t":5.2,"y":-0.569},{"s":"9","t":5.3,"y":-0.614},{"s":"9","t":5.4,"y":-0.658},{"s":"9","t":5.5,"y":-0.701},{"s":"9","t":5.6,"y":-0.742},{"s":"9","t":5.7,"y":-0.781},{"s":"9","t":5.8,"y":-0.818},{"s":"9","t":5.9,"y":-0.853},
      {"s":"9","t":6,"y":-0.885},{"s":"9","t":6.1,"y":-0.915},{"s":"9","t":6.2,"y":-0.941},{"s":"9","t":6.3,"y":-0.966},{"s":"9","t":6.4,"y":-0.987},{"s":"9","t":6.5,"y":-1.005},{"s":"9","t":6.6,"y":-1.020},{"s":"9","t":6.7,"y":-1.032},{"s":"9","t":6.8,"y":-1.042},{"s":"9","t":6.9,"y":-1.048},
      {"s":"9","t":7,"y":-1.052},{"s":"9","t":7.1,"y":-1.052},{"s":"9","t":7.2,"y":-1.050},{"s":"9","t":7.3,"y":-1.045},{"s":"9","t":7.4,"y":-1.038},{"s":"9","t":7.5,"y":-1.029},{"s":"9","t":7.6,"y":-1.018},{"s":"9","t":7.7,"y":-1.005},{"s":"9","t":7.8,"y":-0.991},{"s":"9","t":7.9,"y":-0.975},
      {"s":"9","t":8,"y":-0.959},{"s":"9","t":8.1,"y":-0.941},{"s":"9","t":8.2,"y":-0.923},{"s":"9","t":8.3,"y":-0.905},{"s":"9","t":8.4,"y":-0.887},{"s":"9","t":8.5,"y":-0.869},{"s":"9","t":8.6,"y":-0.852},{"s":"9","t":8.7,"y":-0.836},{"s":"9","t":8.8,"y":-0.820},{"s":"9","t":8.9,"y":-0.806},
      {"s":"9","t":9,"y":-0.793},{"s":"9","t":9.1,"y":-0.782},{"s":"9","t":9.2,"y":-0.773},{"s":"9","t":9.3,"y":-0.766},{"s":"9","t":9.4,"y":-0.761},{"s":"9","t":9.5,"y":-0.758},{"s":"9","t":9.6,"y":-0.758},{"s":"9","t":9.7,"y":-0.760},{"s":"9","t":9.8,"y":-0.765},{"s":"9","t":9.9,"y":-0.773},
      {"s":"9","t":10,"y":-0.783},

      {"s":"T","t":0,"y":0.0},{"s":"T","t":0.1,"y":-0.0092},{"s":"T","t":0.2,"y":-0.0158},{"s":"T","t":0.3,"y":-0.0198},{"s":"T","t":0.4,"y":-0.0213},{"s":"T","t":0.5,"y":-0.0204},{"s":"T","t":0.6,"y":-0.0172},{"s":"T","t":0.7,"y":-0.0118},{"s":"T","t":0.8,"y":-0.0044},{"s":"T","t":0.9,"y":0.0048},
      {"s":"T","t":1,"y":0.0157},{"s":"T","t":1.1,"y":0.0279},{"s":"T","t":1.2,"y":0.0413},{"s":"T","t":1.3,"y":0.0557},{"s":"T","t":1.4,"y":0.0707},{"s":"T","t":1.5,"y":0.0862},{"s":"T","t":1.6,"y":0.1018},{"s":"T","t":1.7,"y":0.1173},{"s":"T","t":1.8,"y":0.1325},{"s":"T","t":1.9,"y":0.1469},
      {"s":"T","t":2,"y":0.1604},{"s":"T","t":2.1,"y":0.1729},{"s":"T","t":2.2,"y":0.1838},{"s":"T","t":2.3,"y":0.1931},{"s":"T","t":2.4,"y":0.2005},{"s":"T","t":2.5,"y":0.2059},{"s":"T","t":2.6,"y":0.2089},{"s":"T","t":2.7,"y":0.2095},{"s":"T","t":2.8,"y":0.2076},{"s":"T","t":2.9,"y":0.2029},
      {"s":"T","t":3,"y":0.1954},{"s":"T","t":3.1,"y":0.1848},{"s":"T","t":3.2,"y":0.1713},{"s":"T","t":3.3,"y":0.1550},{"s":"T","t":3.4,"y":0.1359},{"s":"T","t":3.5,"y":0.1140},{"s":"T","t":3.6,"y":0.0888},{"s":"T","t":3.7,"y":0.0609},{"s":"T","t":3.8,"y":0.0304},{"s":"T","t":3.9,"y":-0.0025},
      {"s":"T","t":4,"y":-0.0377},{"s":"T","t":4.1,"y":-0.0755},{"s":"T","t":4.2,"y":-0.1152},{"s":"T","t":4.3,"y":-0.1566},{"s":"T","t":4.4,"y":-0.1996},{"s":"T","t":4.5,"y":-0.2438},{"s":"T","t":4.6,"y":-0.2893},{"s":"T","t":4.7,"y":-0.3355},{"s":"T","t":4.8,"y":-0.3822},{"s":"T","t":4.9,"y":-0.4292},
      {"s":"T","t":5,"y":-0.4761},{"s":"T","t":5.1,"y":-0.5227},{"s":"T","t":5.2,"y":-0.5687},{"s":"T","t":5.3,"y":-0.6139},{"s":"T","t":5.4,"y":-0.6580},{"s":"T","t":5.5,"y":-0.7007},{"s":"T","t":5.6,"y":-0.7415},{"s":"T","t":5.7,"y":-0.7806},{"s":"T","t":5.8,"y":-0.8176},{"s":"T","t":5.9,"y":-0.8525},
      {"s":"T","t":6,"y":-0.8850},{"s":"T","t":6.1,"y":-0.9145},{"s":"T","t":6.2,"y":-0.9414},{"s":"T","t":6.3,"y":-0.9655},{"s":"T","t":6.4,"y":-0.9869},{"s":"T","t":6.5,"y":-1.0053},{"s":"T","t":6.6,"y":-1.0203},{"s":"T","t":6.7,"y":-1.0324},{"s":"T","t":6.8,"y":-1.0416},{"s":"T","t":6.9,"y":-1.0479},
      {"s":"T","t":7,"y":-1.0515},{"s":"T","t":7.1,"y":-1.0519},{"s":"T","t":7.2,"y":-1.0497},{"s":"T","t":7.3,"y":-1.0451},{"s":"T","t":7.4,"y":-1.0383},{"s":"T","t":7.5,"y":-1.0293},{"s":"T","t":7.6,"y":-1.0181},{"s":"T","t":7.7,"y":-1.0052},{"s":"T","t":7.8,"y":-0.9909},{"s":"T","t":7.9,"y":-0.9753},
      {"s":"T","t":8,"y":-0.9587},{"s":"T","t":8.1,"y":-0.9413},{"s":"T","t":8.2,"y":-0.9233},{"s":"T","t":8.3,"y":-0.9051},{"s":"T","t":8.4,"y":-0.8870},{"s":"T","t":8.5,"y":-0.8691},{"s":"T","t":8.6,"y":-0.8519},{"s":"T","t":8.7,"y":-0.8355},{"s":"T","t":8.8,"y":-0.8200},{"s":"T","t":8.9,"y":-0.8058},
      {"s":"T","t":9,"y":-0.7930},{"s":"T","t":9.1,"y":-0.7822},{"s":"T","t":9.2,"y":-0.7731},{"s":"T","t":9.3,"y":-0.7660},{"s":"T","t":9.4,"y":-0.7610},{"s":"T","t":9.5,"y":-0.7582},{"s":"T","t":9.6,"y":-0.7581},{"s":"T","t":9.7,"y":-0.7603},{"s":"T","t":9.8,"y":-0.7652},{"s":"T","t":9.9,"y":-0.7726},
      {"s":"T","t":10,"y":-0.7827}
    ]
  },
  "mark": {"type": "line", "strokeJoin": "round"},
  "encoding": {
    "x": {
      "field": "t",
      "type": "quantitative",
      "scale": {"domain": [-0.5, 10.5], "nice": false, "zero": false},
      "axis": {"values": [0, 2, 4, 6, 8, 10], "format": "d", "title": "t →", "titlePadding": 4}
    },
    "y": {
      "field": "y",
      "type": "quantitative",
      "scale": {"domain": [-1.2674, 0.4289], "nice": false, "zero": false},
      "axis": {
        "values": [-1.2, -1.0, -0.8, -0.6, -0.4, -0.2, 0, 0.2, 0.4],
        "labelExpr": "replace(format(datum.value, '.1f'), '-', '−')",
        "title": "f(t) + noise →",
        "titlePadding": 7
      }
    },
    "color": {
      "field": "s",
      "type": "nominal",
      "scale": {
        "domain": ["1", "2", "3", "4", "5", "6", "7", "8", "9", "T"],
        "range": ["#1f77b4", "#ff7f0e", "#2ca02c", "#d62728", "#9467bd", "#8c564b", "#e377c2", "#7f7f7f", "#bcbd22", "#000000"]
      },
      "legend": {
        "title": null,
        "orient": "none",
        "legendX": 7.3,
        "legendY": 115,
        "labelExpr": "['sigma₁=0.1','sigma₂=0.056','sigma₃=0.032','sigma₄=0.018','sigma₅=0.01','sigma₆=0.006','sigma₇=0.003','sigma₈=0.002','sigma₉=0.001','True Value'][indexof(['1','2','3','4','5','6','7','8','9','T'], datum.label)]",
        "symbolType": "M-3.625,0L3.625,0",
        "symbolSize": 64,
        "symbolOffset": 5.95,
        "labelOffset": 19,
        "rowPadding": 9.6,
        "padding": 6,
        "fillColor": "rgba(255,255,255,0.8)",
        "strokeColor": "#cccccc",
        "cornerRadius": 3
      }
    },
    "strokeWidth": {
      "field": "s",
      "type": "nominal",
      "scale": {
        "type": "ordinal",
        "domain": ["1", "2", "3", "4", "5", "6", "7", "8", "9", "T"],
        "range": [2.1, 2.1, 2.1, 2.1, 2.1, 2.1, 2.1, 2.1, 2.1, 4.2]
      },
      "legend": {
        "title": null,
        "orient": "none",
        "legendX": 7.3,
        "legendY": 115,
        "labelExpr": "['sigma₁=0.1','sigma₂=0.056','sigma₃=0.032','sigma₄=0.018','sigma₅=0.01','sigma₆=0.006','sigma₇=0.003','sigma₈=0.002','sigma₉=0.001','True Value'][indexof(['1','2','3','4','5','6','7','8','9','T'], datum.label)]",
        "symbolType": "M-3.625,0L3.625,0",
        "symbolSize": 64,
        "symbolOffset": 5.95,
        "labelOffset": 19,
        "rowPadding": 9.6,
        "padding": 6,
        "fillColor": "rgba(255,255,255,0.8)",
        "strokeColor": "#cccccc",
        "cornerRadius": 3
      }
    }
  },
  "config": {
    "view": {"stroke": "#000000", "strokeWidth": 1.1},
    "axis": {
      "domain": false,
      "grid": true,
      "gridColor": "#b0b0b0",
      "gridWidth": 1.1,
      "tickColor": "#000000",
      "tickSize": 4.9,
      "tickWidth": 1.1,
      "labelColor": "#000000",
      "labelFont": "DejaVu Sans",
      "labelFontSize": 13.9,
      "labelPadding": 4.9,
      "titleColor": "#000000",
      "titleFont": "DejaVu Sans",
      "titleFontSize": 15,
      "titleFontStyle": "italic",
      "titleFontWeight": "normal"
    },
    "legend": {
      "labelFont": "DejaVu Sans",
      "labelFontSize": 13.9,
      "labelColor": "#000000"
    }
  }
}
